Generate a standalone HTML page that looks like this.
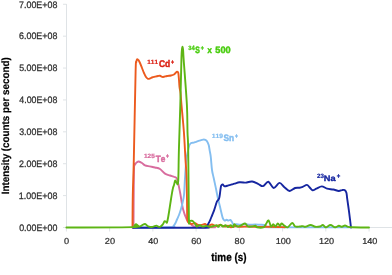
<!DOCTYPE html>
<html><head><meta charset="utf-8"><style>
html,body{margin:0;padding:0;background:#fff;overflow:hidden;}
svg{display:block;will-change:transform;}
text{font-family:"Liberation Sans",sans-serif;font-kerning:none;text-rendering:geometricPrecision;}
</style></head><body>
<svg width="392" height="275" viewBox="0 0 392 275">
<line x1="66.5" y1="4" x2="66.5" y2="228" stroke="#DFE3E6" stroke-width="1"/><line x1="66" y1="227.5" x2="392" y2="227.5" stroke="#DFE3E6" stroke-width="1"/><line x1="63" y1="227.50" x2="66.5" y2="227.50" stroke="#DFE3E6" stroke-width="1"/><text transform="translate(19.15,230.81) scale(0.951,1)" font-size="9.32" font-weight="normal" fill="#303030" stroke="#303030" stroke-width="0.263">0.00E+00</text><line x1="63" y1="195.61" x2="66.5" y2="195.61" stroke="#DFE3E6" stroke-width="1"/><text transform="translate(18.82,198.92) scale(0.960,1)" font-size="9.32" font-weight="normal" fill="#303030" stroke="#303030" stroke-width="0.260">1.00E+08</text><line x1="63" y1="163.72" x2="66.5" y2="163.72" stroke="#DFE3E6" stroke-width="1"/><text transform="translate(19.05,167.03) scale(0.954,1)" font-size="9.32" font-weight="normal" fill="#303030" stroke="#303030" stroke-width="0.262">2.00E+08</text><line x1="63" y1="131.83" x2="66.5" y2="131.83" stroke="#DFE3E6" stroke-width="1"/><text transform="translate(19.16,135.14) scale(0.951,1)" font-size="9.32" font-weight="normal" fill="#303030" stroke="#303030" stroke-width="0.263">3.00E+08</text><line x1="63" y1="99.94" x2="66.5" y2="99.94" stroke="#DFE3E6" stroke-width="1"/><text transform="translate(19.30,103.25) scale(0.948,1)" font-size="9.32" font-weight="normal" fill="#303030" stroke="#303030" stroke-width="0.264">4.00E+08</text><line x1="63" y1="68.05" x2="66.5" y2="68.05" stroke="#DFE3E6" stroke-width="1"/><text transform="translate(19.14,71.36) scale(0.952,1)" font-size="9.32" font-weight="normal" fill="#303030" stroke="#303030" stroke-width="0.263">5.00E+08</text><line x1="63" y1="36.16" x2="66.5" y2="36.16" stroke="#DFE3E6" stroke-width="1"/><text transform="translate(19.05,39.47) scale(0.954,1)" font-size="9.32" font-weight="normal" fill="#303030" stroke="#303030" stroke-width="0.262">6.00E+08</text><line x1="63" y1="4.27" x2="66.5" y2="4.27" stroke="#DFE3E6" stroke-width="1"/><text transform="translate(19.04,7.58) scale(0.954,1)" font-size="9.32" font-weight="normal" fill="#303030" stroke="#303030" stroke-width="0.262">7.00E+08</text><line x1="66.40" y1="227.5" x2="66.40" y2="231.5" stroke="#DFE3E6" stroke-width="1"/><text transform="translate(64.04,244.02) scale(1.068,1)" font-size="8.62" font-weight="normal" fill="#303030" stroke="#303030" stroke-width="0.234">0</text><line x1="109.64" y1="227.5" x2="109.64" y2="231.5" stroke="#DFE3E6" stroke-width="1"/><text transform="translate(104.78,244.02) scale(1.067,1)" font-size="8.62" font-weight="normal" fill="#303030" stroke="#303030" stroke-width="0.234">20</text><line x1="152.88" y1="227.5" x2="152.88" y2="231.5" stroke="#DFE3E6" stroke-width="1"/><text transform="translate(148.27,244.02) scale(1.039,1)" font-size="8.62" font-weight="normal" fill="#303030" stroke="#303030" stroke-width="0.241">40</text><line x1="196.12" y1="227.5" x2="196.12" y2="231.5" stroke="#DFE3E6" stroke-width="1"/><text transform="translate(191.25,244.02) scale(1.067,1)" font-size="8.62" font-weight="normal" fill="#303030" stroke="#303030" stroke-width="0.234">60</text><line x1="239.36" y1="227.5" x2="239.36" y2="231.5" stroke="#DFE3E6" stroke-width="1"/><text transform="translate(234.56,244.02) scale(1.059,1)" font-size="8.62" font-weight="normal" fill="#303030" stroke="#303030" stroke-width="0.236">80</text><line x1="282.60" y1="227.5" x2="282.60" y2="231.5" stroke="#DFE3E6" stroke-width="1"/><text transform="translate(275.65,244.02) scale(1.061,1)" font-size="8.62" font-weight="normal" fill="#303030" stroke="#303030" stroke-width="0.236">100</text><line x1="325.84" y1="227.5" x2="325.84" y2="231.5" stroke="#DFE3E6" stroke-width="1"/><text transform="translate(318.89,244.02) scale(1.061,1)" font-size="8.62" font-weight="normal" fill="#303030" stroke="#303030" stroke-width="0.236">120</text><line x1="369.08" y1="227.5" x2="369.08" y2="231.5" stroke="#DFE3E6" stroke-width="1"/><text transform="translate(362.13,244.02) scale(1.061,1)" font-size="8.62" font-weight="normal" fill="#303030" stroke="#303030" stroke-width="0.236">140</text><path d="M133.50,227.50 C133.58,217.92 133.72,180.50 134.00,170.00 C134.28,159.50 134.70,165.80 135.20,164.50 C135.70,163.20 136.40,162.70 137.00,162.20 C137.60,161.70 137.97,161.37 138.80,161.50 C139.63,161.63 140.97,162.37 142.00,163.00 C143.03,163.63 143.67,164.73 145.00,165.30 C146.33,165.87 148.33,166.03 150.00,166.40 C151.67,166.77 153.33,167.07 155.00,167.50 C156.67,167.93 158.33,167.98 160.00,169.00 C161.67,170.02 163.33,172.52 165.00,173.60 C166.67,174.68 168.42,174.93 170.00,175.50 C171.58,176.07 173.33,176.42 174.50,177.00 C175.67,177.58 176.08,176.50 177.00,179.00 C177.92,181.50 179.00,187.00 180.00,192.00 C181.00,197.00 181.83,204.33 183.00,209.00 C184.17,213.67 185.83,217.67 187.00,220.00 C188.17,222.33 189.00,222.00 190.00,223.00 C191.00,224.00 191.33,225.28 193.00,226.00 C194.67,226.72 196.33,227.07 200.00,227.30 C203.67,227.53 212.50,227.38 215.00,227.40" fill="none" stroke="#D86C9E" stroke-width="1.9" stroke-linejoin="round" stroke-linecap="round"/><path d="M133.50,227.50 C139.75,227.47 164.33,227.55 171.00,227.30 C177.67,227.05 172.75,226.72 173.50,226.00 C174.25,225.28 174.92,224.08 175.50,223.00 C176.08,221.92 176.42,220.83 177.00,219.50 C177.58,218.17 178.33,216.75 179.00,215.00 C179.67,213.25 180.42,211.00 181.00,209.00 C181.58,207.00 182.00,205.33 182.50,203.00 C183.00,200.67 183.58,199.17 184.00,195.00 C184.42,190.83 184.62,183.83 185.00,178.00 C185.38,172.17 185.82,164.48 186.30,160.00 C186.78,155.52 187.45,153.40 187.90,151.10 C188.35,148.80 188.63,147.38 189.00,146.20 C189.37,145.02 189.65,144.55 190.10,144.00 C190.55,143.45 191.07,143.13 191.70,142.90 C192.33,142.67 193.17,142.78 193.90,142.60 C194.63,142.42 195.18,142.12 196.10,141.80 C197.02,141.48 198.22,141.07 199.40,140.70 C200.58,140.33 202.20,139.73 203.20,139.60 C204.20,139.47 204.77,139.62 205.40,139.90 C206.03,140.18 206.45,140.43 207.00,141.30 C207.55,142.17 208.25,143.55 208.70,145.10 C209.15,146.65 209.35,148.60 209.70,150.60 C210.05,152.60 210.42,153.87 210.80,157.10 C211.18,160.33 211.52,166.52 212.00,170.00 C212.48,173.48 213.08,175.10 213.70,178.00 C214.32,180.90 215.02,184.10 215.70,187.40 C216.38,190.70 217.25,195.27 217.80,197.80 C218.35,200.33 218.50,200.53 219.00,202.60 C219.50,204.67 220.18,207.67 220.80,210.20 C221.42,212.73 222.07,216.07 222.70,217.80 C223.33,219.53 223.97,220.28 224.60,220.60 C225.23,220.92 225.87,219.70 226.50,219.70 C227.13,219.70 227.77,220.55 228.40,220.60 C229.03,220.65 229.70,219.77 230.30,220.00 C230.90,220.23 231.47,221.25 232.00,222.00 C232.53,222.75 232.77,224.15 233.50,224.50 C234.23,224.85 235.32,224.08 236.40,224.10 C237.48,224.12 238.57,224.58 240.00,224.60 C241.43,224.62 243.33,224.17 245.00,224.20 C246.67,224.23 248.33,224.75 250.00,224.80 C251.67,224.85 253.33,224.50 255.00,224.50 C256.67,224.50 258.50,224.72 260.00,224.80 C261.50,224.88 262.83,224.70 264.00,225.00 C265.17,225.30 266.00,226.23 267.00,226.60 C268.00,226.97 256.17,227.07 270.00,227.20 C283.83,227.33 336.67,227.37 350.00,227.40" fill="none" stroke="#84BEF0" stroke-width="1.9" stroke-linejoin="round" stroke-linecap="round"/><path d="M132.50,227.50 C132.55,222.08 132.58,206.25 132.80,195.00 C133.02,183.75 133.33,180.50 133.80,160.00 C134.27,139.50 135.18,88.33 135.60,72.00 C136.02,55.67 136.05,64.13 136.30,62.00 C136.55,59.87 136.73,59.50 137.10,59.20 C137.47,58.90 138.02,59.57 138.50,60.20 C138.98,60.83 139.42,61.70 140.00,63.00 C140.58,64.30 141.33,66.33 142.00,68.00 C142.67,69.67 143.33,71.50 144.00,73.00 C144.67,74.50 145.33,76.03 146.00,77.00 C146.67,77.97 147.33,78.55 148.00,78.80 C148.67,79.05 149.33,78.72 150.00,78.50 C150.67,78.28 151.17,77.80 152.00,77.50 C152.83,77.20 154.00,76.95 155.00,76.70 C156.00,76.45 157.17,76.15 158.00,76.00 C158.83,75.85 159.17,75.63 160.00,75.80 C160.83,75.97 161.83,76.97 163.00,77.00 C164.17,77.03 165.67,76.25 167.00,76.00 C168.33,75.75 169.83,75.75 171.00,75.50 C172.17,75.25 173.17,75.00 174.00,74.50 C174.83,74.00 175.50,72.95 176.00,72.50 C176.50,72.05 176.62,71.72 177.00,71.80 C177.38,71.88 177.97,71.63 178.30,73.00 C178.63,74.37 178.80,77.67 179.00,80.00 C179.20,82.33 179.25,84.83 179.50,87.00 C179.75,89.17 180.17,90.00 180.50,93.00 C180.83,96.00 180.93,98.50 181.50,105.00 C182.07,111.50 183.23,122.83 183.90,132.00 C184.57,141.17 185.07,152.83 185.50,160.00 C185.93,167.17 186.25,168.33 186.50,175.00 C186.75,181.67 186.87,192.67 187.00,200.00 C187.13,207.33 187.05,215.25 187.30,219.00 C187.55,222.75 188.08,221.78 188.50,222.50 C188.92,223.22 189.27,223.05 189.80,223.30 C190.33,223.55 190.83,224.00 191.70,224.00 C192.57,224.00 194.03,223.20 195.00,223.30 C195.97,223.40 196.67,224.28 197.50,224.60 C198.33,224.92 199.15,225.20 200.00,225.20 C200.85,225.20 201.77,224.80 202.60,224.60 C203.43,224.40 204.10,223.85 205.00,224.00 C205.90,224.15 206.83,225.42 208.00,225.50 C209.17,225.58 210.67,224.42 212.00,224.50 C213.33,224.58 214.67,225.92 216.00,226.00 C217.33,226.08 218.50,224.92 220.00,225.00 C221.50,225.08 223.67,226.37 225.00,226.50 C226.33,226.63 227.00,225.67 228.00,225.80 C229.00,225.93 229.67,227.27 231.00,227.30 C232.33,227.33 234.50,226.08 236.00,226.00 C237.50,225.92 237.67,226.72 240.00,226.80 C242.33,226.88 246.67,226.47 250.00,226.50 C253.33,226.53 256.67,226.95 260.00,227.00 C263.33,227.05 265.83,226.77 270.00,226.80 C274.17,226.83 282.50,227.13 285.00,227.20" fill="none" stroke="#EC5A1E" stroke-width="1.9" stroke-linejoin="round" stroke-linecap="round"/><path d="M133.00,227.70 C144.67,227.70 190.77,227.87 203.00,227.70 C215.23,227.53 205.52,227.35 206.40,226.70 C207.28,226.05 207.67,224.90 208.30,223.80 C208.93,222.70 209.57,221.52 210.20,220.10 C210.83,218.68 211.47,216.88 212.10,215.30 C212.73,213.72 213.38,212.32 214.00,210.60 C214.62,208.88 215.32,206.50 215.80,205.00 C216.28,203.50 216.43,202.52 216.90,201.60 C217.37,200.68 218.17,200.28 218.60,199.50 C219.03,198.72 219.18,198.58 219.50,196.90 C219.82,195.22 220.22,191.28 220.50,189.40 C220.78,187.52 220.83,186.43 221.20,185.60 C221.57,184.77 222.13,184.28 222.70,184.40 C223.27,184.52 223.65,186.13 224.60,186.30 C225.55,186.47 227.17,185.72 228.40,185.40 C229.63,185.08 231.00,184.68 232.00,184.40 C233.00,184.12 233.13,184.05 234.40,183.70 C235.67,183.35 237.87,182.48 239.60,182.30 C241.33,182.12 243.72,182.55 244.80,182.60 C245.88,182.65 244.87,182.78 246.10,182.60 C247.33,182.42 250.15,181.25 252.20,181.50 C254.25,181.75 256.60,183.33 258.40,184.10 C260.20,184.87 261.35,186.48 263.00,186.10 C264.65,185.72 266.52,181.48 268.30,181.80 C270.08,182.12 271.83,187.82 273.70,188.00 C275.57,188.18 277.72,183.03 279.50,182.90 C281.28,182.77 282.70,185.85 284.40,187.20 C286.10,188.55 287.92,190.87 289.70,191.00 C291.48,191.13 293.45,188.55 295.10,188.00 C296.75,187.45 298.33,187.88 299.60,187.70 C300.87,187.52 301.48,187.37 302.70,186.90 C303.92,186.43 305.77,184.85 306.90,184.90 C308.03,184.95 308.55,186.30 309.50,187.20 C310.45,188.10 311.45,190.05 312.60,190.30 C313.75,190.55 314.87,189.35 316.40,188.70 C317.93,188.05 320.02,186.40 321.80,186.40 C323.58,186.40 325.18,188.18 327.10,188.70 C329.02,189.22 331.37,189.12 333.30,189.50 C335.23,189.88 337.23,190.90 338.70,191.00 C340.17,191.10 341.10,190.25 342.10,190.10 C343.10,189.95 343.98,189.67 344.70,190.10 C345.42,190.53 345.98,191.27 346.40,192.70 C346.82,194.13 346.78,195.72 347.20,198.70 C347.62,201.68 348.38,206.75 348.90,210.60 C349.42,214.45 349.95,218.98 350.30,221.80 C350.65,224.62 350.88,226.55 351.00,227.50" fill="none" stroke="#1626A0" stroke-width="1.9" stroke-linejoin="round" stroke-linecap="round"/><path d="M66.40,227.50 C77.50,227.43 121.65,227.43 133.00,227.10 C144.35,226.77 134.00,225.98 134.50,225.50 C135.00,225.02 135.45,224.20 136.00,224.20 C136.55,224.20 137.20,225.10 137.80,225.50 C138.40,225.90 138.90,226.63 139.60,226.60 C140.30,226.57 141.08,225.73 142.00,225.30 C142.92,224.87 144.07,223.83 145.10,224.00 C146.13,224.17 146.97,225.82 148.20,226.30 C149.43,226.78 151.15,227.02 152.50,226.90 C153.85,226.78 155.38,225.67 156.30,225.60 C157.22,225.53 157.32,226.32 158.00,226.50 C158.68,226.68 159.60,227.05 160.40,226.70 C161.20,226.35 162.12,225.30 162.80,224.40 C163.48,223.50 163.97,221.73 164.50,221.30 C165.03,220.87 165.58,221.60 166.00,221.80 C166.42,222.00 166.63,223.30 167.00,222.50 C167.37,221.70 167.78,219.25 168.20,217.00 C168.62,214.75 169.07,211.75 169.50,209.00 C169.93,206.25 170.40,203.07 170.80,200.50 C171.20,197.93 171.52,195.75 171.90,193.60 C172.28,191.45 172.75,189.03 173.10,187.60 C173.45,186.17 173.65,186.17 174.00,185.00 C174.35,183.83 174.75,180.97 175.20,180.60 C175.65,180.23 176.20,182.65 176.70,182.80 C177.20,182.95 177.83,186.97 178.20,181.50 C178.57,176.03 178.55,162.75 178.90,150.00 C179.25,137.25 179.88,120.00 180.30,105.00 C180.72,90.00 181.13,69.17 181.40,60.00 C181.67,50.83 181.72,52.20 181.90,50.00 C182.08,47.80 182.30,46.80 182.50,46.80 C182.70,46.80 182.90,47.80 183.10,50.00 C183.30,52.20 183.07,50.83 183.70,60.00 C184.33,69.17 186.27,93.00 186.90,105.00 C187.53,117.00 187.28,124.50 187.50,132.00 C187.72,139.50 187.97,135.67 188.20,150.00 C188.43,164.33 188.70,206.32 188.90,218.00 C189.10,229.68 189.13,219.63 189.40,220.10 C189.67,220.57 190.00,220.68 190.50,220.80 C191.00,220.92 191.87,220.60 192.40,220.80 C192.93,221.00 193.17,221.37 193.70,222.00 C194.23,222.63 195.08,223.85 195.60,224.60 C196.12,225.35 196.32,226.35 196.80,226.50 C197.28,226.65 197.97,225.72 198.50,225.50 C199.03,225.28 199.32,225.03 200.00,225.20 C200.68,225.37 201.53,226.38 202.60,226.50 C203.67,226.62 205.13,225.83 206.40,225.90 C207.67,225.97 208.93,226.90 210.20,226.90 C211.47,226.90 212.93,226.18 214.00,225.90 C215.07,225.62 215.85,225.03 216.60,225.20 C217.35,225.37 217.87,227.00 218.50,226.90 C219.13,226.80 219.65,224.67 220.40,224.60 C221.15,224.53 222.15,226.40 223.00,226.50 C223.85,226.60 224.67,225.10 225.50,225.20 C226.33,225.30 227.15,227.10 228.00,227.10 C228.85,227.10 229.73,225.20 230.60,225.20 C231.47,225.20 232.60,227.27 233.20,227.10 C233.80,226.93 233.53,224.30 234.20,224.20 C234.87,224.10 236.07,226.28 237.20,226.50 C238.33,226.72 239.70,226.00 241.00,225.50 C242.30,225.00 243.83,223.33 245.00,223.50 C246.17,223.67 246.83,226.00 248.00,226.50 C249.17,227.00 250.73,226.62 252.00,226.50 C253.27,226.38 254.77,225.67 255.60,225.80 C256.43,225.93 255.72,227.05 257.00,227.30 C258.28,227.55 261.80,227.85 263.30,227.30 C264.80,226.75 265.12,225.15 266.00,224.00 C266.88,222.85 267.77,219.98 268.60,220.40 C269.43,220.82 270.23,225.87 271.00,226.50 C271.77,227.13 272.45,224.20 273.20,224.20 C273.95,224.20 274.73,226.62 275.50,226.50 C276.27,226.38 277.05,223.58 277.80,223.50 C278.55,223.42 279.38,226.00 280.00,226.00 C280.62,226.00 280.73,223.53 281.50,223.50 C282.27,223.47 283.57,225.17 284.60,225.80 C285.63,226.43 286.43,227.77 287.70,227.30 C288.97,226.83 290.93,223.13 292.20,223.00 C293.47,222.87 294.02,225.92 295.30,226.50 C296.58,227.08 298.62,226.57 299.90,226.50 C301.18,226.43 302.10,226.05 303.00,226.10 C303.90,226.15 304.03,226.98 305.30,226.80 C306.57,226.62 308.95,225.00 310.60,225.00 C312.25,225.00 313.67,226.55 315.20,226.80 C316.73,227.05 318.52,226.80 319.80,226.50 C321.08,226.20 321.88,224.87 322.90,225.00 C323.92,225.13 324.63,227.30 325.90,227.30 C327.17,227.30 328.97,225.00 330.50,225.00 C332.03,225.00 333.70,227.17 335.10,227.30 C336.50,227.43 337.75,225.88 338.90,225.80 C340.05,225.72 340.98,226.85 342.00,226.80 C343.02,226.75 344.00,225.50 345.00,225.50 C346.00,225.50 346.83,226.50 348.00,226.80 C349.17,227.10 348.50,227.18 352.00,227.30 C355.50,227.42 366.17,227.47 369.00,227.50" fill="none" stroke="#5DB514" stroke-width="1.9" stroke-linejoin="round" stroke-linecap="round"/><text transform="translate(147.30,63.70) scale(1.033,1)" font-size="6.20" font-weight="bold" fill="#DC2418" stroke="#DC2418" stroke-width="0.242">111</text><text transform="translate(159.00,66.66) scale(0.877,1)" font-size="9.67" font-weight="bold" fill="#DC2418" stroke="#DC2418" stroke-width="0.479">Cd</text><text transform="translate(171.32,63.76) scale(0.744,1)" font-size="5.90" font-weight="bold" fill="#DC2418" stroke="#DC2418" stroke-width="0.538">+</text><text transform="translate(188.17,49.73) scale(0.937,1)" font-size="6.20" font-weight="bold" fill="#4ACD10" stroke="#4ACD10" stroke-width="0.267">34</text><text transform="translate(195.35,53.36) scale(0.734,1)" font-size="9.32" font-weight="bold" fill="#4ACD10" stroke="#4ACD10" stroke-width="0.572">S</text><text transform="translate(200.67,50.26) scale(0.913,1)" font-size="5.90" font-weight="bold" fill="#4ACD10" stroke="#4ACD10" stroke-width="0.438">+</text><text transform="translate(207.60,53.45) scale(0.910,1)" font-size="8.52" font-weight="bold" fill="#4ACD10" stroke="#4ACD10" stroke-width="0.462">x</text><text transform="translate(215.37,53.36) scale(0.988,1)" font-size="9.32" font-weight="bold" fill="#4ACD10" stroke="#4ACD10" stroke-width="0.425">500</text><text transform="translate(211.77,138.44) scale(1.090,1)" font-size="6.20" font-weight="bold" fill="#84BEF0" stroke="#84BEF0" stroke-width="0.229">119</text><text transform="translate(223.41,141.26) scale(0.895,1)" font-size="9.32" font-weight="bold" fill="#84BEF0" stroke="#84BEF0" stroke-width="0.469">Sn</text><text transform="translate(234.99,137.76) scale(0.845,1)" font-size="5.90" font-weight="bold" fill="#84BEF0" stroke="#84BEF0" stroke-width="0.473">+</text><text transform="translate(143.99,158.44) scale(1.043,1)" font-size="6.20" font-weight="bold" fill="#D86C9E" stroke="#D86C9E" stroke-width="0.240">125</text><text transform="translate(155.66,161.96) scale(0.894,1)" font-size="9.17" font-weight="bold" fill="#D86C9E" stroke="#D86C9E" stroke-width="0.470">Te</text><text transform="translate(165.89,158.36) scale(0.845,1)" font-size="5.90" font-weight="bold" fill="#D86C9E" stroke="#D86C9E" stroke-width="0.473">+</text><text transform="translate(316.98,178.43) scale(1.007,1)" font-size="6.20" font-weight="bold" fill="#1626A0" stroke="#1626A0" stroke-width="0.248">23</text><text transform="translate(323.83,180.97) scale(1.126,1)" font-size="8.17" font-weight="bold" fill="#1626A0" stroke="#1626A0" stroke-width="0.373">Na</text><text transform="translate(336.85,178.36) scale(1.014,1)" font-size="5.90" font-weight="bold" fill="#1626A0" stroke="#1626A0" stroke-width="0.394">+</text><text transform="translate(211.28,260.62) scale(0.863,1)" font-size="11.48" font-weight="bold" fill="#000" stroke="#000" stroke-width="0.290">time (s)</text><text transform="translate(8.90,194.26) rotate(-90) scale(0.935,1)" font-size="10.5" font-weight="bold" fill="#000" stroke="#000" stroke-width="0.2">Intensity (counts per second)</text>
</svg>
</body></html>
